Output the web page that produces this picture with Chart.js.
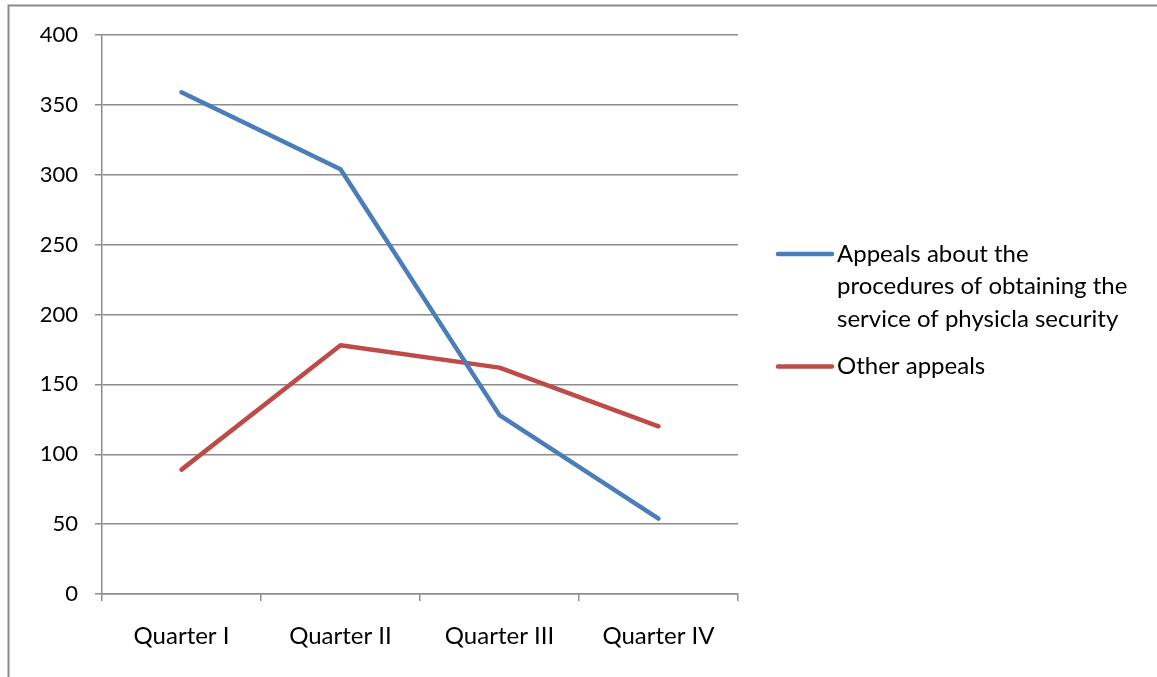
<!DOCTYPE html>
<html lang="en">
<head>
    <meta charset="UTF-8">
    <title>Appeals by quarter</title>
    <script src="https://cdn.jsdelivr.net/npm/chart.js"></script>
    <style>
        html, body { margin: 0; padding: 0; background: #fff; }
        #wrap { position: relative; width: 1157px; height: 677px; }
    </style>
</head>
<body>
    <div id="wrap"><canvas id="appealsChart"></canvas></div>

    <script>
        const quarters = ["Quarter I", "Quarter II", "Quarter III", "Quarter IV"];
        const procedureAppeals = [359, 304, 128, 54];
        const otherAppeals = [89, 178, 162, 120];
        const procedureLabel = ["Appeals about the", "procedures of obtaining the", "service of physicla security"];
        const otherLabel = ["Other appeals"];
        const yTicks = [0, 50, 100, 150, 200, 250, 300, 350, 400];

        const FONT = "Lato, 'Open Sans', sans-serif";
        const GRID = "#8c8c8c";

        // outer frame (top and left edges only) + legend on the right
        const frameAndLegend = {
            id: "frameAndLegend",
            beforeDraw(chart) {
                const c = chart.ctx;
                c.save();
                c.strokeStyle = "#8a8a8a";
                c.lineWidth = 2;
                c.beginPath();
                c.moveTo(8.5, chart.height);
                c.lineTo(8.5, 5.5);
                c.lineTo(chart.width, 5.5);
                c.stroke();
                c.restore();
            },
            afterDraw(chart) {
                const c = chart.ctx;
                const area = chart.chartArea;
                const x0 = area.right + 40;
                const lineLen = 54;
                const lh = 32.5;
                let y = 254;
                c.save();
                c.font = "24px " + FONT;
                c.textBaseline = "middle";
                chart.data.datasets.forEach(ds => {
                    c.strokeStyle = ds.borderColor;
                    c.lineWidth = 4.5;
                    c.lineCap = "round";
                    c.beginPath();
                    c.moveTo(x0, y);
                    c.lineTo(x0 + lineLen, y);
                    c.stroke();
                    c.fillStyle = "#000";
                    ds.label.forEach((line, i) => {
                        c.fillText(line, x0 + lineLen + 5, y + i * lh);
                    });
                    y += ds.label.length * lh + 15;
                });
                c.restore();
            }
        };

        const ctx = document.getElementById("appealsChart").getContext("2d");
        new Chart(ctx, {
            type: "line",
            data: {
                labels: quarters,
                datasets: [{
                    label: procedureLabel,
                    data: procedureAppeals,
                    borderColor: "#4a7ebb",
                    borderWidth: 4.5,
                    pointRadius: 0,
                    tension: 0,
                    borderCapStyle: "round",
                    borderJoinStyle: "round"
                }, {
                    label: otherLabel,
                    data: otherAppeals,
                    borderColor: "#be4b48",
                    borderWidth: 4.5,
                    pointRadius: 0,
                    tension: 0,
                    borderCapStyle: "round",
                    borderJoinStyle: "round"
                }]
            },
            options: {
                responsive: true,
                maintainAspectRatio: false,
                animation: false,
                layout: { padding: { top: 35, right: 419, bottom: 0, left: 0 } },
                plugins: {
                    legend: { display: false },
                    tooltip: { enabled: false }
                },
                scales: {
                    x: {
                        offset: true,
                        grid: {
                            offset: true,
                            drawOnChartArea: false,
                            drawTicks: true,
                            tickLength: 7,
                            color: GRID,
                            lineWidth: 1.5
                        },
                        border: { color: GRID, width: 1.5 },
                        ticks: {
                            color: "#000",
                            padding: 21,
                            maxRotation: 0,
                            font: { family: FONT, size: 24 }
                        },
                        afterFit(scale) { scale.height = 83; }
                    },
                    y: {
                        min: 0,
                        max: 400,
                        afterBuildTicks(scale) {
                            scale.ticks = yTicks.map(v => ({ value: v }));
                        },
                        grid: {
                            color: GRID,
                            lineWidth: 1.5,
                            tickLength: 7
                        },
                        border: { color: GRID, width: 1.5 },
                        ticks: {
                            color: "#000",
                            padding: 17,
                            font: { family: FONT, size: 22 }
                        },
                        afterFit(scale) { scale.width = 102; }
                    }
                }
            },
            plugins: [frameAndLegend]
        });
    </script>
</body>
</html>
